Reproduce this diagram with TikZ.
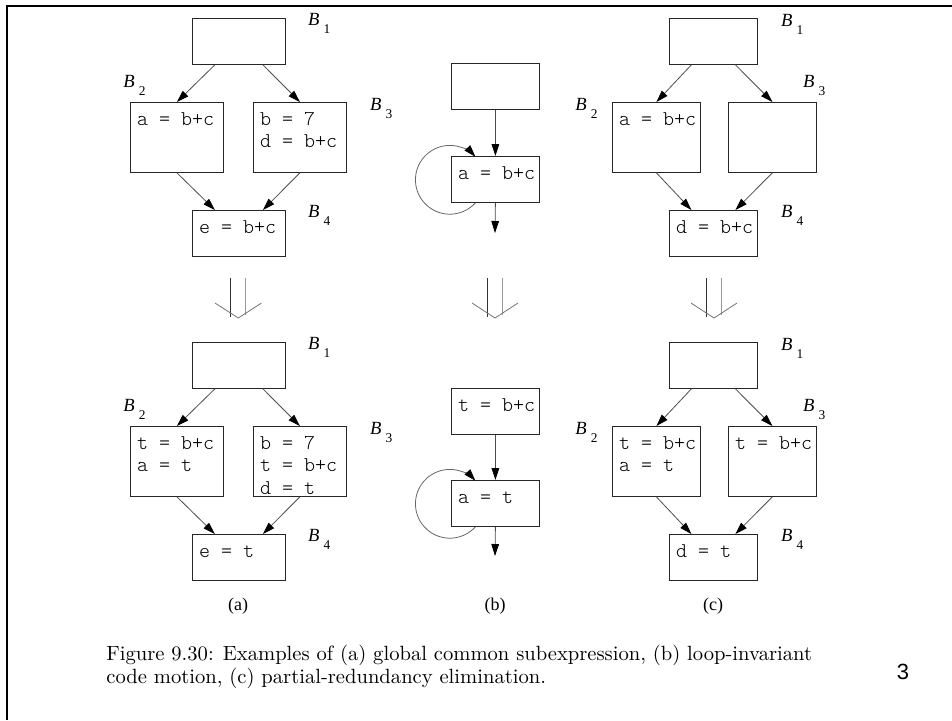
\documentclass[tikz,border=0pt]{standalone}
\usepackage{fontspec}
\newfontfamily\timesf{Liberation Serif}
\newfontfamily\arialf{Liberation Sans}
\setmonofont{lmmonolt10-regular.otf}
\usetikzlibrary{arrows.meta,positioning}
\tikzstyle{blk}=[rectangle,draw=black!85,inner sep=0pt,anchor=north west]
\tikzstyle{blab}=[anchor=base west,inner sep=0pt]
\tikzstyle{flow}=[draw=black!70,-{Triangle[length=6pt,width=3.8pt,color=black]}]
\tikzstyle{loopy}=[draw=black!60,-{Triangle[length=6pt,width=3.8pt,color=black]}]
% code block: width, height, lines
\newcommand{\cb}[3]{\parbox[c][#2][t]{#1}{\ttfamily\fontsize{10.5}{11.2}\selectfont
  \leftskip=3.3pt\rule{0pt}{11.4pt}#3}}
% block name B with subscript
\newcommand{\bn}[1]{{\timesf\itshape\fontsize{9.3}{10}\selectfont B}\hspace{2pt}%
  \raisebox{-4.1pt}{\timesf\fontsize{6.7}{7}\selectfont #1}}

\begin{document}
\begin{tikzpicture}[x=0.5pt,y=-0.5pt]
            \useasboundingbox (0,0) rectangle (952,720);
            \draw[line width=1.35pt] (7,720) -- (7,6) -- (952,6);

            % (a) BEFORE

            \node[blk] (ta1) at (192,18) {\cb{46.5pt}{23pt}{}};
            \node[blk] (ta2) at (130,102) {\cb{46.5pt}{35pt}{a = b+c}};
            \node[blk] (ta3) at (253,102) {\cb{46.5pt}{35pt}{b = 7\\d = b+c}};
            \node[blk] (ta4) at (192,210) {\cb{46.5pt}{23pt}{e = b+c}};
            \node[blab] (ta1l) at ([shift={(22,7)}]ta1.north east) {\bn{1}};
            \node[blab] (ta2l) at ([shift={(-7,-15)}]ta2.north west) {\bn{2}};
            \node[blab] (ta3l) at ([shift={(23,8)}]ta3.north east) {\bn{3}};
            \node[blab] (ta4l) at ([shift={(22,7)}]ta4.north east) {\bn{4}};

            \draw[flow] ([xshift=-12pt]ta1.south) -- (ta2.north);
            \draw[flow] ([xshift=12pt]ta1.south) -- (ta3.north);
            \draw[flow] (ta2.south) -- ([xshift=-12pt]ta4.north);
            \draw[flow] (ta3.south) -- ([xshift=12pt]ta4.north);

            \draw[black!80] (230.8,278) -- (230.8,317);
            \draw[black!40] (245.8,278) -- (245.8,315);
            \draw[black!55] (215,303) -- (238.3,318) -- (261.5,303);

            % (a) AFTER

            \node[blk] (ba1) at (192,342) {\cb{46.5pt}{23pt}{}};
            \node[blk] (ba2) at (130,426) {\cb{46.5pt}{35pt}{t = b+c\\a = t}};
            \node[blk] (ba3) at (253,426) {\cb{46.5pt}{35pt}{b = 7\\t = b+c\\d = t}};
            \node[blk] (ba4) at (192,534) {\cb{46.5pt}{23pt}{e = t}};
            \node[blab] (ba1l) at ([shift={(22,7)}]ba1.north east) {\bn{1}};
            \node[blab] (ba2l) at ([shift={(-7,-15)}]ba2.north west) {\bn{2}};
            \node[blab] (ba3l) at ([shift={(23,8)}]ba3.north east) {\bn{3}};
            \node[blab] (ba4l) at ([shift={(22,7)}]ba4.north east) {\bn{4}};

            \draw[flow] ([xshift=-12pt]ba1.south) -- (ba2.north);
            \draw[flow] ([xshift=12pt]ba1.south) -- (ba3.north);
            \draw[flow] (ba2.south) -- ([xshift=-12pt]ba4.north);
            \draw[flow] (ba3.south) -- ([xshift=12pt]ba4.north);

            % (b) BEFORE

            \node[blk] (tb1) at (451,63) {\cb{44pt}{23pt}{}};
            \node[blk] (tb2) at (451,156) {\cb{44pt}{23pt}{a = b+c}};
            \coordinate (tbo) at (495,233);

            \draw[flow] (tb1.south) -- (tb2.north);
            \draw[flow] (tb2.south) -- (tbo);
            \draw[loopy] ([xshift=-10pt]tb2.south) arc[start angle=-42,end angle=-318,radius=17.2pt];

            \draw[black!80] (487.5,278) -- (487.5,317);
            \draw[black!40] (502.5,278) -- (502.5,315);
            \draw[black!55] (472,303) -- (495,318) -- (518,303);

            % (b) AFTER

            \node[blk] (bb1) at (451,388) {\cb{44pt}{23pt}{t = b+c}};
            \node[blk] (bb2) at (451,480) {\cb{44pt}{23pt}{a = t}};
            \coordinate (bbo) at (495,556);

            \draw[flow] (bb1.south) -- (bb2.north);
            \draw[flow] (bb2.south) -- (bbo);
            \draw[loopy] ([xshift=-10pt]bb2.south) arc[start angle=-42,end angle=-318,radius=17.2pt];

            % (c) BEFORE

            \node[blk] (tc1) at (669,18) {\cb{44pt}{23pt}{}};
            \node[blk] (tc2) at (612,102) {\cb{44pt}{35pt}{a = b+c}};
            \node[blk] (tc3) at (728,102) {\cb{44pt}{35pt}{}};
            \node[blk] (tc4) at (669,210) {\cb{44pt}{23pt}{d = b+c}};
            \node[blab] (tc1l) at ([shift={(23,8)}]tc1.north east) {\bn{1}};
            \node[blab] (tc2l) at ([shift={(-37,8)}]tc2.north west) {\bn{2}};
            \node[blab] (tc3l) at ([shift={(-14,-15)}]tc3.north east) {\bn{3}};
            \node[blab] (tc4l) at ([shift={(23,7)}]tc4.north east) {\bn{4}};

            \draw[flow] ([xshift=-11pt]tc1.south) -- (tc2.north);
            \draw[flow] ([xshift=11pt]tc1.south) -- (tc3.north);
            \draw[flow] (tc2.south) -- ([xshift=-11pt]tc4.north);
            \draw[flow] (tc3.south) -- ([xshift=11pt]tc4.north);

            \draw[black!80] (706.5,278) -- (706.5,317);
            \draw[black!40] (721.5,278) -- (721.5,315);
            \draw[black!55] (691,303) -- (714,318) -- (737,303);

            % (c) AFTER

            \node[blk] (bc1) at (669,342) {\cb{44pt}{23pt}{}};
            \node[blk] (bc2) at (612,426) {\cb{44pt}{35pt}{t = b+c\\a = t}};
            \node[blk] (bc3) at (728,426) {\cb{44pt}{35pt}{t = b+c}};
            \node[blk] (bc4) at (669,534) {\cb{44pt}{23pt}{d = t}};
            \node[blab] (bc1l) at ([shift={(23,8)}]bc1.north east) {\bn{1}};
            \node[blab] (bc2l) at ([shift={(-37,8)}]bc2.north west) {\bn{2}};
            \node[blab] (bc3l) at ([shift={(-14,-15)}]bc3.north east) {\bn{3}};
            \node[blab] (bc4l) at ([shift={(23,7)}]bc4.north east) {\bn{4}};

            \draw[flow] ([xshift=-11pt]bc1.south) -- (bc2.north);
            \draw[flow] ([xshift=11pt]bc1.south) -- (bc3.north);
            \draw[flow] (bc2.south) -- ([xshift=-11pt]bc4.north);
            \draw[flow] (bc3.south) -- ([xshift=11pt]bc4.north);

            % Captions

            \node[font=\timesf\fontsize{9}{10}\selectfont] (capa) at (238,606) {(a)};
            \node[font=\timesf\fontsize{9}{10}\selectfont] (capb) at (495,606) {(b)};
            \node[font=\timesf\fontsize{9}{10}\selectfont] (capc) at (713,606) {(c)};
            \node[anchor=north west,inner sep=0pt,align=left,font=\fontsize{10.3}{11.5}\selectfont] (fig) at (106,645)
              {Figure 9.30: Examples of (a) global common subexpression, (b) loop-invariant\\
               code motion, (c) partial-redundancy elimination.};
            \node[font=\arialf\fontsize{11}{12}\selectfont] (pg) at (903,672) {3};
\end{tikzpicture}
\end{document}
